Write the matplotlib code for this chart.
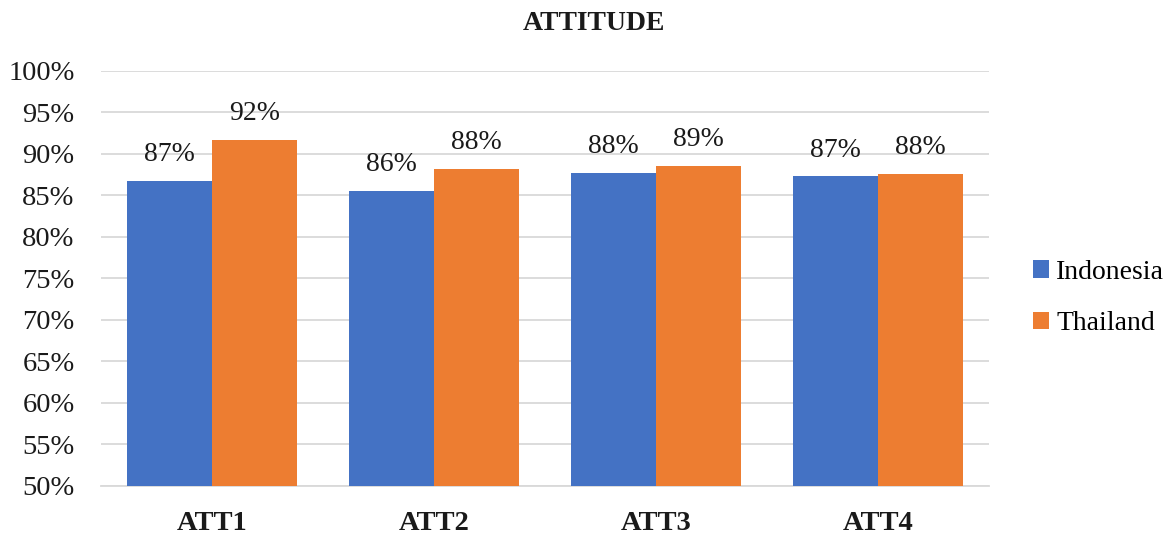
import matplotlib
matplotlib.use("Agg")
import matplotlib.pyplot as plt
from matplotlib.ticker import PercentFormatter
import numpy as np

categories = ["ATT1", "ATT2", "ATT3", "ATT4"]
indonesia = [0.868, 0.856, 0.877, 0.873]
thailand = [0.917, 0.882, 0.886, 0.876]
series_names = ["Indonesia", "Thailand"]
y_ticks = [0.50, 0.55, 0.60, 0.65, 0.70, 0.75, 0.80, 0.85, 0.90, 0.95, 1.00]

plt.rcParams["font.family"] = ["Liberation Serif", "DejaVu Serif"]

blue = "#4472C4"
orange = "#ED7D31"
grid = "#D9D9D9"
ink = "#1a1a1a"

fig = plt.figure(figsize=(11.73, 5.35), dpi=100)
ax = fig.add_axes([0.0861, 0.0916, 0.757, 0.7757])

x = np.arange(len(categories))
w = 0.383
b1 = ax.bar(x - w / 2, indonesia, w, color=blue, label=series_names[0], zorder=3)
b2 = ax.bar(x + w / 2, thailand, w, color=orange, label=series_names[1], zorder=3)

for bars, vals in ((b1, indonesia), (b2, thailand)):
    for rect, v in zip(bars, vals):
        ax.annotate(f"{round(v * 100):.0f}%",
                    (rect.get_x() + rect.get_width() / 2, v),
                    xytext=(0, 10), textcoords="offset points",
                    ha="center", va="bottom", fontsize=20, color=ink,
                    zorder=4)

ax.set_ylim(0.50, 1.00)
ax.set_xlim(-0.5, len(categories) - 0.5)
ax.set_yticks(y_ticks)
ax.yaxis.set_major_formatter(PercentFormatter(1.0, decimals=0))
ax.set_xticks(x)
ax.set_xticklabels(categories, fontweight="bold", fontsize=20.5)
ax.tick_params(axis="y", labelsize=20.5, length=0, pad=19, colors=ink)
ax.tick_params(axis="x", length=0, pad=18, colors=ink)
ax.yaxis.grid(True, color=grid, linewidth=1.3, zorder=0)
for s in ("top", "right", "left"):
    ax.spines[s].set_visible(False)
ax.spines["bottom"].set_color(grid)
ax.spines["bottom"].set_linewidth(1.3)

fig.text(0.506, 0.957, "ATTITUDE", ha="center", va="center",
         fontsize=20, fontweight="bold", color=ink)

fig.legend(handles=[b1, b2], labels=series_names, loc="center left",
           bbox_to_anchor=(0.8805, 0.443), frameon=False, fontsize=20,
           handlelength=0.6, handleheight=0.6, handletextpad=0.25,
           labelspacing=0.95, borderpad=0, borderaxespad=0)

fig.savefig("out.png", dpi=100)
